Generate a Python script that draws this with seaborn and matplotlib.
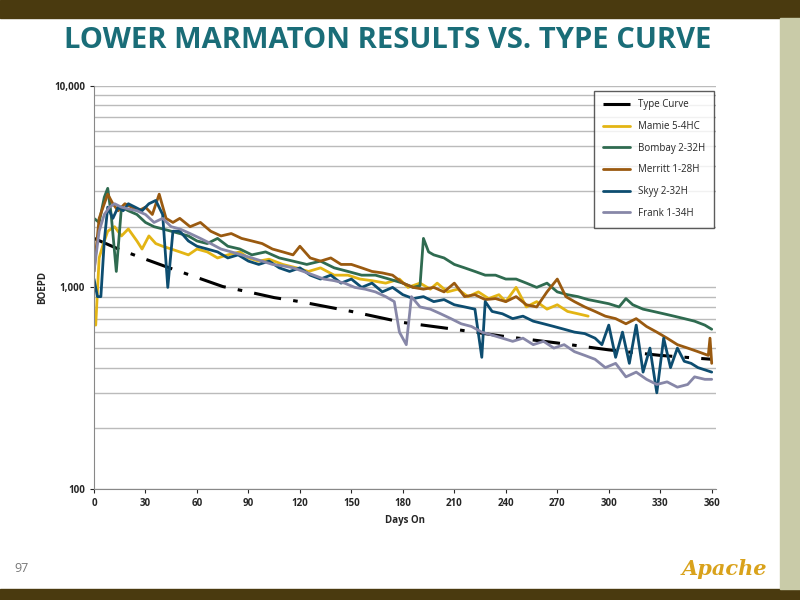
import numpy as np
import seaborn as sns
import matplotlib.pyplot as plt
from matplotlib.ticker import FixedLocator, NullFormatter

# values (BOEPD vs days on)
type_days = [0, 15, 30, 45, 60, 75, 90, 105, 120, 150, 180, 210, 240, 270, 300, 330, 360]
type_vals = [1750, 1540, 1380, 1240, 1120, 1010, 950, 890, 850, 760, 670, 620, 570, 530, 490, 460, 440]

mamie_days = [0, 1, 3, 5, 8, 12, 16, 20, 25, 28, 32, 36, 40, 45, 50, 55, 60, 66, 72, 78, 85, 90, 96, 102, 110,
              118, 125, 132, 140, 148, 155, 162, 170, 178, 183, 190, 196, 200, 206, 212, 218, 224, 230, 236, 240,
              246, 252, 258, 264, 270, 276, 282, 288]
mamie_vals = [700, 650, 1400, 1600, 1900, 2000, 1800, 1950, 1700, 1550, 1800, 1650, 1600, 1550, 1500, 1450, 1550,
              1500, 1400, 1450, 1500, 1400, 1350, 1380, 1300, 1250, 1200, 1250, 1150, 1150, 1100, 1080, 1050, 1100,
              1000, 1050, 980, 1050, 950, 980, 900, 950, 880, 920, 850, 1000, 800, 850, 780, 820, 760, 740, 720]

bombay_days = [0, 3, 6, 8, 10, 13, 16, 20, 25, 30, 35, 40, 45, 50, 55, 60, 66, 72, 78, 85, 92, 100, 108, 116,
               124, 132, 140, 148, 156, 164, 172, 180, 186, 190, 192, 195, 198, 204, 210, 216, 222, 228, 234, 240,
               246, 252, 258, 264, 270, 276, 282, 288, 294, 300, 306, 310, 314, 320, 326, 332, 338, 344, 350, 356, 360]
bombay_vals = [2200, 2100, 2800, 3100, 2300, 1200, 2500, 2400, 2300, 2100, 2000, 1950, 1900, 1850, 1800, 1700, 1650,
               1750, 1600, 1550, 1450, 1500, 1400, 1350, 1300, 1350, 1250, 1200, 1150, 1150, 1100, 1050, 1000, 1020,
               1750, 1500, 1450, 1400, 1300, 1250, 1200, 1150, 1150, 1100, 1100, 1050, 1000, 1050, 950, 920, 900, 870,
               850, 830, 800, 880, 820, 780, 760, 740, 720, 700, 680, 650, 620]

merritt_days = [0, 3, 6, 8, 11, 14, 18, 22, 26, 30, 34, 38, 42, 46, 50, 56, 62, 68, 74, 80, 86, 92, 98, 104, 110,
                116, 120, 126, 132, 138, 144, 150, 156, 162, 168, 174, 180, 186, 192, 198, 204, 210, 216, 222, 228,
                234, 240, 246, 252, 258, 264, 270, 275, 280, 286, 292, 298, 304, 310, 316, 322, 328, 334, 340, 346,
                352, 358, 359, 360]
merritt_vals = [1200, 2200, 2600, 2900, 2600, 2400, 2600, 2500, 2400, 2500, 2300, 2900, 2200, 2100, 2200, 2000, 2100,
                1900, 1800, 1850, 1750, 1700, 1650, 1550, 1500, 1450, 1600, 1400, 1350, 1400, 1300, 1300, 1250, 1200,
                1180, 1150, 1050, 1000, 980, 1000, 950, 1050, 900, 920, 870, 880, 850, 900, 820, 800, 950, 1100, 900,
                850, 800, 760, 720, 700, 660, 700, 640, 600, 560, 520, 500, 480, 460, 560, 420]

skyy_days = [0, 2, 4, 6, 8, 11, 14, 17, 20, 24, 28, 32, 36, 40, 43, 46, 50, 55, 60, 66, 72, 78, 84, 90, 96, 102,
             108, 114, 120, 126, 132, 138, 144, 150, 156, 162, 168, 174, 180, 186, 192, 198, 204, 210, 216, 222,
             226, 228, 232, 238, 244, 250, 256, 262, 268, 274, 280, 286, 292, 296, 300, 304, 308, 312, 316, 320,
             324, 328, 332, 336, 340, 344, 348, 352, 356, 360]
skyy_vals = [1100, 900, 900, 1700, 2500, 2200, 2500, 2400, 2600, 2500, 2400, 2600, 2700, 2300, 1000, 1900, 1900, 1700,
             1600, 1550, 1500, 1400, 1450, 1350, 1300, 1350, 1250, 1200, 1250, 1150, 1100, 1150, 1050, 1100, 1000,
             1050, 950, 1000, 920, 880, 900, 850, 870, 820, 800, 780, 450, 850, 760, 740, 700, 720, 680, 660, 640,
             620, 600, 590, 560, 520, 650, 450, 600, 420, 650, 380, 500, 300, 560, 400, 500, 430, 420, 400, 390, 380]

frank_days = [0, 3, 6, 9, 12, 16, 20, 25, 30, 35, 40, 45, 50, 56, 62, 68, 74, 80, 86, 92, 98, 104, 110, 116, 122,
              128, 134, 140, 146, 152, 158, 164, 170, 175, 178, 182, 185, 190, 196, 202, 208, 214, 220, 226, 232,
              238, 244, 250, 256, 262, 268, 274, 280, 286, 292, 298, 304, 310, 316, 322, 328, 334, 340, 346, 350,
              356, 360]
frank_vals = [1200, 1900, 2300, 2500, 2600, 2500, 2450, 2400, 2300, 2100, 2200, 2000, 1950, 1850, 1750, 1650, 1550,
              1500, 1450, 1400, 1350, 1300, 1280, 1250, 1200, 1150, 1100, 1080, 1050, 1000, 980, 950, 900, 850, 600,
              520, 900, 800, 780, 740, 700, 660, 640, 600, 580, 560, 540, 560, 520, 540, 500, 520, 480, 460, 440, 400,
              420, 360, 380, 350, 330, 340, 320, 330, 360, 350, 350]

wells = [
    ("Mamie 5-4HC", mamie_days, mamie_vals, "#E3B514"),
    ("Bombay 2-32H", bombay_days, bombay_vals, "#2F6B50"),
    ("Merritt 1-28H", merritt_days, merritt_vals, "#9A5A10"),
    ("Skyy 2-32H", skyy_days, skyy_vals, "#0D4D70"),
    ("Frank 1-34H", frank_days, frank_vals, "#8787A8"),
]

sns.set_style("white")
plt.rcParams['font.family'] = ['Open Sans', 'DejaVu Sans']

fig = plt.figure(figsize=(8, 6), dpi=100)
# slide decoration
fig.patches.append(plt.Rectangle((0, 0.97), 1, 0.03, transform=fig.transFigure, color="#4A3A0F"))
fig.patches.append(plt.Rectangle((0, 0), 1, 0.018, transform=fig.transFigure, color="#4A3A0F"))
fig.patches.append(plt.Rectangle((0.975, 0.018), 0.025, 0.952, transform=fig.transFigure, color="#C9CBA8"))
fig.text(0.485, 0.932, "LOWER MARMATON RESULTS VS. TYPE CURVE", ha="center", va="center",
         fontsize=21, fontweight="bold", color="#1A6D78")
fig.text(0.018, 0.052, "97", fontsize=9, color="#777777", va="center")
fig.text(0.905, 0.052, "Apache", fontsize=15, color="#D9A21B", style="italic",
         fontweight="bold", ha="center", va="center", family="DejaVu Serif")

ax = fig.add_axes([0.1175, 0.185, 0.7775, 0.672])
sns.lineplot(x=type_days, y=type_vals, ax=ax, color="black", lw=2.2, label="Type Curve",
             linestyle=(0, (9, 4, 1.5, 4)))
for name, d, v, c in wells:
    sns.lineplot(x=d, y=v, ax=ax, color=c, lw=2, label=name)

ax.set_yscale("log")
ax.set_ylim(100, 10000)
ax.set_xlim(0, 362.5)
ax.set_xticks(range(0, 361, 30))
ax.set_yticks([100, 1000, 10000])
ax.set_yticklabels(["100", "1,000", "10,000"])
ax.yaxis.set_minor_locator(FixedLocator([m * 10 ** e for e in (2, 3) for m in range(2, 10)]))
ax.yaxis.set_minor_formatter(NullFormatter())
ax.grid(True, which="both", axis="y", color="#BBBBBB", lw=1)
ax.tick_params(axis="both", labelsize=7)
ax.tick_params(axis="y", which="major", length=3, left=True)
ax.tick_params(axis="x", length=3, bottom=True)
for lbl in ax.get_xticklabels() + ax.get_yticklabels():
    lbl.set_fontweight("bold")
for s in ("top", "right"):
    ax.spines[s].set_visible(False)
for s in ("left", "bottom"):
    ax.spines[s].set_color("#888888")
ax.set_xlabel("Days On", fontsize=7, fontweight="bold")
ax.set_ylabel("BOEPD", fontsize=7, fontweight="bold")

leg = ax.legend(loc="upper right", fontsize=7, frameon=True, fancybox=False, labelspacing=1.1,
                handlelength=2.8, borderpad=0.9, bbox_to_anchor=(1.005, 1.0))
leg.get_frame().set_edgecolor("#333333")

fig.savefig("out.png", dpi=100)
